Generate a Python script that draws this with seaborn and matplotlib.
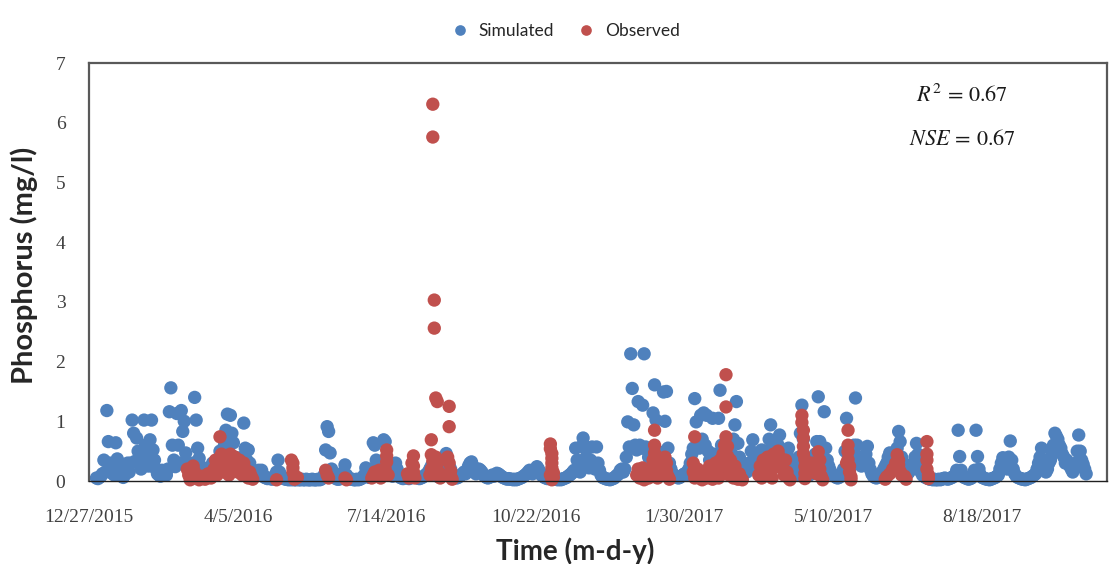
import pandas as pd
import matplotlib
matplotlib.use("Agg")
import matplotlib.pyplot as plt
import seaborn as sns

# Axis origin and daily simulated total phosphorus (mg/l) starting 2016-01-01
axis_start = "2015-12-27"
sim_start = "2016-01-01"
sim_values = [
    0.05, 0.04, 0.06, 0.08, 0.12, 0.35, 0.15, 1.18, 0.66, 0.30,
    0.24, 0.12, 0.10, 0.64, 0.37, 0.20, 0.12, 0.08, 0.06, 0.10,
    0.18, 0.30, 0.15, 0.30, 1.02, 0.80, 0.33, 0.72, 0.50, 0.28,
    0.20, 0.45, 1.02, 0.60, 0.35, 0.25, 0.69, 1.02, 0.52, 0.35,
    0.20, 0.12, 0.10, 0.08, 0.18, 0.10, 0.15, 0.10, 0.20, 1.16,
    1.56, 0.60, 0.35, 0.24, 1.13, 0.60, 0.30, 1.18, 0.83, 1.00,
    0.47, 0.30, 0.20, 0.15, 0.10, 0.30, 1.40, 1.02, 0.55, 0.38,
    0.25, 0.18, 0.12, 0.10, 0.08, 0.10, 0.20, 0.15, 0.30, 0.20,
    0.15, 0.35, 0.25, 0.50, 0.30, 0.20, 0.60, 0.85, 1.12, 0.75,
    1.10, 0.80, 0.64, 0.40, 0.30, 0.20, 0.15, 0.25, 0.40, 0.97,
    0.55, 0.35, 0.52, 0.30, 0.20, 0.12, 0.10, 0.08, 0.12, 0.18,
    0.10, 0.18, 0.10, 0.06, 0.05, 0.04, 0.05, 0.04, 0.03, 0.05,
    0.08, 0.15, 0.35, 0.15, 0.08, 0.05, 0.04, 0.03, 0.03, 0.02,
    0.03, 0.02, 0.03, 0.02, 0.02, 0.03, 0.02, 0.02, 0.03, 0.02,
    0.02, 0.03, 0.02, 0.02, 0.02, 0.03, 0.02, 0.02, 0.02, 0.03,
    0.02, 0.03, 0.05, 0.10, 0.52, 0.91, 0.83, 0.47, 0.20, 0.10,
    0.06, 0.04, 0.03, 0.03, 0.05, 0.08, 0.15, 0.27, 0.10, 0.05,
    0.04, 0.03, 0.03, 0.02, 0.02, 0.03, 0.02, 0.03, 0.04, 0.06,
    0.10, 0.22, 0.10, 0.06, 0.08, 0.20, 0.64, 0.60, 0.35, 0.20,
    0.12, 0.10, 0.20, 0.69, 0.66, 0.35, 0.20, 0.12, 0.10, 0.08,
    0.15, 0.30, 0.20, 0.10, 0.06, 0.05, 0.04, 0.05, 0.06, 0.05,
    0.04, 0.05, 0.08, 0.12, 0.08, 0.06, 0.05, 0.04, 0.05, 0.06,
    0.08, 0.10, 0.12, 0.15, 0.20, 0.25, 0.18, 0.12, 0.10, 0.08,
    0.10, 0.12, 0.15, 0.20, 0.30, 0.46, 0.35, 0.25, 0.20, 0.12,
    0.08, 0.06, 0.05, 0.06, 0.08, 0.10, 0.12, 0.15, 0.12, 0.15,
    0.25, 0.30, 0.32, 0.25, 0.18, 0.12, 0.15, 0.20, 0.18, 0.15,
    0.10, 0.08, 0.06, 0.05, 0.06, 0.08, 0.10, 0.08, 0.10, 0.13,
    0.12, 0.10, 0.08, 0.06, 0.05, 0.04, 0.03, 0.04, 0.03, 0.03,
    0.02, 0.03, 0.02, 0.03, 0.04, 0.05, 0.06, 0.08, 0.10, 0.12,
    0.15, 0.18, 0.15, 0.12, 0.15, 0.20, 0.24, 0.20, 0.15, 0.10,
    0.08, 0.06, 0.05, 0.04, 0.05, 0.06, 0.05, 0.04, 0.03, 0.03,
    0.02, 0.03, 0.02, 0.03, 0.04, 0.05, 0.06, 0.08, 0.10, 0.12,
    0.15, 0.18, 0.55, 0.35, 0.22, 0.15, 0.58, 0.72, 0.58, 0.40,
    0.30, 0.22, 0.35, 0.57, 0.30, 0.20, 0.57, 0.30, 0.18, 0.10,
    0.06, 0.05, 0.04, 0.03, 0.03, 0.02, 0.03, 0.04, 0.05, 0.08,
    0.10, 0.12, 0.18, 0.20, 0.15, 0.20, 0.40, 0.99, 0.57, 2.13,
    1.55, 0.94, 0.60, 0.52, 1.33, 0.60, 0.55, 1.27, 2.13, 0.57,
    0.52, 0.40, 0.30, 0.52, 1.14, 1.61, 1.02, 0.50, 0.30, 0.20,
    0.15, 1.49, 1.00, 1.50, 0.55, 0.30, 0.20, 0.12, 0.10, 0.08,
    0.06, 0.05, 0.06, 0.08, 0.10, 0.12, 0.10, 0.15, 0.20, 0.30,
    0.45, 0.55, 1.38, 0.99, 0.69, 0.55, 1.10, 0.70, 1.14, 0.60,
    1.10, 0.50, 0.35, 0.30, 1.05, 0.45, 0.30, 0.25, 1.05, 1.52,
    0.60, 0.40, 0.30, 0.25, 0.20, 0.30, 0.25, 0.45, 0.70, 0.94,
    1.33, 0.63, 0.40, 0.25, 0.15, 0.30, 0.20, 0.15, 0.20, 0.30,
    0.50, 0.69, 0.40, 0.25, 0.20, 0.30, 0.40, 0.52, 0.35, 0.25,
    0.30, 0.50, 0.70, 0.94, 0.60, 0.40, 0.30, 0.45, 0.60, 0.77,
    0.50, 0.35, 0.25, 0.30, 0.45, 0.55, 0.35, 0.20, 0.15, 0.12,
    0.10, 0.20, 0.40, 0.80, 1.27, 0.70, 0.40, 0.25, 0.15, 0.10,
    0.12, 0.20, 0.30, 0.45, 0.66, 1.41, 0.66, 0.45, 0.55, 1.16,
    0.55, 0.35, 0.25, 0.18, 0.12, 0.10, 0.08, 0.06, 0.05, 0.06,
    0.08, 0.10, 0.20, 0.50, 1.05, 0.50, 0.30, 0.25, 0.40, 0.60,
    1.39, 0.60, 0.40, 0.30, 0.25, 0.30, 0.35, 0.45, 0.58, 0.30,
    0.19, 0.12, 0.08, 0.06, 0.05, 0.06, 0.08, 0.10, 0.15, 0.20,
    0.25, 0.30, 0.40, 0.47, 0.30, 0.20, 0.25, 0.40, 0.55, 0.83,
    0.66, 0.40, 0.30, 0.20, 0.15, 0.12, 0.15, 0.20, 0.25, 0.30,
    0.40, 0.63, 0.45, 0.25, 0.15, 0.10, 0.08, 0.06, 0.05, 0.04,
    0.03, 0.03, 0.02, 0.03, 0.02, 0.02, 0.03, 0.02, 0.03, 0.04,
    0.05, 0.04, 0.03, 0.04, 0.05, 0.06, 0.08, 0.10, 0.18, 0.85,
    0.41, 0.18, 0.10, 0.06, 0.05, 0.04, 0.03, 0.04, 0.05, 0.08,
    0.18, 0.85, 0.41, 0.20, 0.10, 0.06, 0.05, 0.04, 0.03, 0.03,
    0.02, 0.03, 0.04, 0.05, 0.06, 0.08, 0.10, 0.20, 0.30, 0.39,
    0.30, 0.26, 0.20, 0.40, 0.67, 0.35, 0.20, 0.12, 0.08, 0.06,
    0.05, 0.04, 0.03, 0.03, 0.02, 0.03, 0.04, 0.05, 0.06, 0.08,
    0.10, 0.12, 0.20, 0.30, 0.40, 0.55, 0.35, 0.20, 0.15, 0.20,
    0.30, 0.35, 0.45, 0.60, 0.80, 0.75, 0.70, 0.60, 0.55, 0.45,
    0.40, 0.30, 0.35, 0.30, 0.25, 0.20, 0.15, 0.20, 0.30, 0.50,
    0.77, 0.50, 0.35, 0.28, 0.20, 0.12,
]

# Grab samples: days after 2015-12-27 and measured phosphorus (mg/l)
obs_day = [
    66, 67, 68, 70, 71, 72, 74, 76, 78, 80, 82, 84, 85, 86, 87, 88, 89, 90,
    91, 92, 93, 94, 95, 96, 97, 98, 99, 100, 101, 102, 103, 104, 105, 106,
    107, 108, 109, 110,
    126, 136, 137, 137, 137, 138, 138, 140,
    159, 160, 161, 172, 173,
    190, 191, 192, 195, 196, 199, 200, 200, 200, 201,
    214, 215, 217, 218, 218, 218, 219,
    229, 230, 230, 230, 231, 231, 231, 232, 232, 233, 234, 233, 234, 235,
    236, 241, 242, 242, 242, 243, 243, 244,
    310, 310, 311, 311, 311, 311, 312, 312, 310, 311,
    368, 369, 370, 371, 372, 372, 373, 375, 376, 378, 379, 380, 380, 380,
    381, 381, 381, 382, 384, 385, 386, 387, 388, 388, 389, 390,
    406, 406, 407, 407, 407, 408, 409, 410, 411, 412, 415, 416, 417, 418,
    419, 420, 421, 422, 423, 424, 425, 426, 427, 428, 428, 428, 429, 429,
    429, 430, 430, 431, 432, 433, 434, 435, 436, 437, 438, 439,
    450, 451, 452, 453, 454, 455, 456, 457, 458, 459, 460, 461, 462, 463,
    464, 465, 466, 467, 468, 469, 470, 471,
    479, 479, 480, 480, 480, 480, 481, 481, 481, 481,
    486, 486, 489, 490, 491, 491, 492, 493,
    509, 510, 510, 510, 510, 511, 511, 512, 512,
    535, 536, 538, 540, 542, 543, 544, 544, 545, 546, 548, 549,
    563, 563, 563, 563, 564, 564,
]
obs_value = [
    0.20, 0.10, 0.02, 0.25, 0.15, 0.05, 0.02, 0.08, 0.03, 0.12, 0.05, 0.20,
    0.35, 0.10, 0.30, 0.74, 0.45, 0.30, 0.15, 0.40, 0.25, 0.10, 0.45, 0.35,
    0.20, 0.40, 0.30, 0.15, 0.35, 0.25, 0.10, 0.30, 0.20, 0.12, 0.05, 0.15,
    0.08, 0.03,
    0.02, 0.35, 0.30, 0.22, 0.15, 0.08, 0.03, 0.06,
    0.18, 0.10, 0.05, 0.05, 0.02,
    0.05, 0.10, 0.15, 0.18, 0.05, 0.20, 0.52, 0.42, 0.32, 0.10,
    0.12, 0.05, 0.30, 0.42, 0.25, 0.15, 0.05,
    0.10, 0.20, 0.44, 0.69, 0.33, 6.31, 5.76, 3.03, 2.56, 1.39, 1.33, 0.40,
    0.30, 0.15, 0.05, 0.40, 1.25, 0.91, 0.30, 0.17, 0.08, 0.03,
    0.62, 0.54, 0.46, 0.38, 0.30, 0.22, 0.14, 0.06, 0.10, 0.02,
    0.10, 0.20, 0.05, 0.15, 0.22, 0.10, 0.02, 0.12, 0.05, 0.20, 0.35, 0.85,
    0.60, 0.47, 0.36, 0.25, 0.15, 0.05, 0.20, 0.10, 0.30, 0.40, 0.30, 0.18,
    0.08, 0.03,
    0.30, 0.15, 0.74, 0.22, 0.05, 0.10, 0.20, 0.05, 0.15, 0.02, 0.05, 0.15,
    0.25, 0.10, 0.03, 0.20, 0.30, 0.12, 0.05, 0.35, 0.25, 0.45, 0.60, 1.78,
    1.24, 0.74, 0.58, 0.42, 0.30, 0.20, 0.10, 0.35, 0.15, 0.05, 0.25, 0.10,
    0.03, 0.12, 0.05, 0.02,
    0.10, 0.25, 0.05, 0.35, 0.20, 0.10, 0.40, 0.30, 0.15, 0.05, 0.45, 0.35,
    0.25, 0.50, 0.40, 0.30, 0.20, 0.10, 0.35, 0.15, 0.05, 0.02,
    1.10, 0.98, 0.85, 0.72, 0.58, 0.46, 0.36, 0.24, 0.13, 0.04,
    0.30, 0.15, 0.12, 0.49, 0.35, 0.20, 0.08, 0.02,
    0.30, 0.85, 0.60, 0.49, 0.36, 0.25, 0.15, 0.07, 0.02,
    0.03, 0.07, 0.12, 0.20, 0.30, 0.44, 0.35, 0.27, 0.16, 0.10, 0.08, 0.03,
    0.66, 0.45, 0.35, 0.20, 0.10, 0.04,
]

x_tick_labels = ["12/27/2015", "4/5/2016", "7/14/2016", "10/22/2016",
                 "1/30/2017", "5/10/2017", "8/18/2017"]
y_ticks = [0, 1, 2, 3, 4, 5, 6, 7]
series_names = ["Simulated", "Observed"]
series_colors = ["#4F81BD", "#C0504D"]

origin = pd.Timestamp(axis_start)
sim = pd.DataFrame({
    "date": pd.date_range(sim_start, periods=len(sim_values), freq="D"),
    "value": sim_values,
    "series": series_names[0],
})
obs = pd.DataFrame({
    "date": origin + pd.to_timedelta(obs_day, unit="D"),
    "value": obs_value,
    "series": series_names[1],
})
data = pd.concat([sim, obs], ignore_index=True)

sns.set_theme(style="white")
plt.rcParams["font.family"] = ["DejaVu Sans"]
plt.rcParams["mathtext.fontset"] = "stix"

fig = plt.figure(figsize=(11.2, 5.64), dpi=100)
ax = fig.add_axes([89 / 1120, 1 - 481 / 564, (1107 - 89) / 1120, (481 - 63) / 564])

sns.scatterplot(
    data=data, x="date", y="value", hue="series",
    hue_order=series_names, palette=dict(zip(series_names, series_colors)),
    s=92, linewidth=0, alpha=1.0, clip_on=False, ax=ax,
)

ax.set_xlim(origin, origin + pd.Timedelta(days=684))
ax.set_ylim(0, 7)
tick_dates = pd.to_datetime(x_tick_labels, format="%m/%d/%Y")
ax.set_xticks(tick_dates)
ax.set_xticklabels(x_tick_labels)
ax.set_yticks(y_ticks)
ax.set_yticklabels([str(v) for v in y_ticks])
ax.tick_params(axis="x", length=0, pad=20, labelsize=14, labelcolor="#404040")
ax.tick_params(axis="y", length=0, pad=17, labelsize=14, labelcolor="#404040")
for lab in ax.get_xticklabels() + ax.get_yticklabels():
    lab.set_family("Liberation Serif")

for side in ["left", "top", "right"]:
    ax.spines[side].set_color("#595959")
    ax.spines[side].set_linewidth(1.6)
ax.spines["bottom"].set_color("#202020")
ax.spines["bottom"].set_linewidth(1.0)
ax.set_xlabel("")
ax.set_ylabel("")

fig.text(575 / 1120, 1 - 551 / 564, "Time (m-d-y)", ha="center", va="center",
         fontsize=20, fontweight="bold", family="Lato")
fig.text(24 / 1120, 1 - 265 / 564, "Phosphorus (mg/l)", ha="center",
         va="center", rotation=90, fontsize=21, fontweight="bold", family="Lato")

ax.text(962 / 1120, 1 - 95 / 564, r"$R^{2}\,=\,0.67$", transform=fig.transFigure,
        ha="center", va="center", fontsize=16, color="#1a1a1a")
ax.text(962 / 1120, 1 - 139 / 564, r"$NSE\,=\,0.67$", transform=fig.transFigure,
        ha="center", va="center", fontsize=16, color="#1a1a1a")

sns.move_legend(
    ax, "center", bbox_to_anchor=(561 / 1120, 1 - 31 / 564),
    bbox_transform=fig.transFigure, ncol=2, frameon=False, title=None,
    handletextpad=0.05, columnspacing=0.9, markerscale=0.8,
    prop={"family": "Lato", "size": 12.5},
)

fig.savefig("out.png", dpi=100, facecolor="white")
